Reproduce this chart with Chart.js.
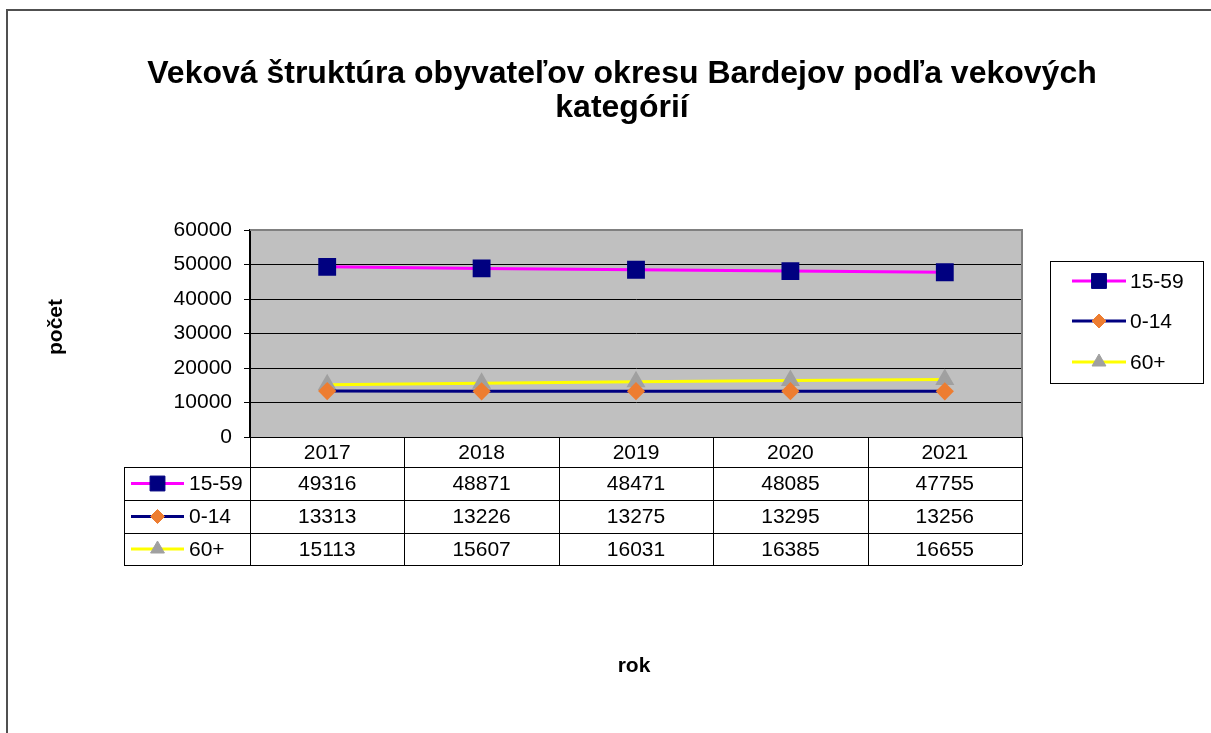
<!DOCTYPE html>
<html>
<head>
<meta charset="utf-8">
<script src="https://cdn.jsdelivr.net/npm/chart.js@4/dist/chart.umd.min.js"></script>
<style>
  html, body { margin: 0; padding: 0; background: #fff; }
  #wrap { position: relative; width: 1211px; height: 733px; }
</style>
</head>
<body>
<div id="wrap"><canvas id="c" width="1211" height="733"></canvas></div>
<script>
// data
var years = ['2017', '2018', '2019', '2020', '2021']
var age1559 = [49316, 48871, 48471, 48085, 47755]
var age014 = [13313, 13226, 13275, 13295, 13256]
var age60 = [15113, 15607, 16031, 16385, 16655]
var seriesNames = ['15-59', '0-14', '60+']
var yMin = 0, yMax = 60000, yStep = 10000

var titleLines = ['Veková štruktúra obyvateľov okresu Bardejov podľa vekových', 'kategórií']
var yTitle = 'počet'
var xTitle = 'rok'

var FONT = '"Liberation Sans", Arial, sans-serif'

function marker(ctx, ds, x, y) {
    ctx.save()
    ctx.fillStyle = ds.pointBackgroundColor
    ctx.strokeStyle = ds.pointBorderColor
    ctx.lineWidth = 1
    Chart.helpers.drawPoint(ctx, { pointStyle: ds.pointStyle, radius: ds.pointRadius, rotation: 0, borderWidth: 1 }, x, y)
    ctx.restore()
}

function legendKey(ctx, ds, x1, x2, y) {
    ctx.save()
    ctx.strokeStyle = ds.borderColor
    ctx.lineWidth = 3
    ctx.beginPath(); ctx.moveTo(x1, y); ctx.lineTo(x2, y); ctx.stroke()
    ctx.restore()
    marker(ctx, ds, (x1 + x2) / 2, y)
}

var frame = {
    id: 'frame',
    beforeDraw: function(chart) {
        var ctx = chart.ctx, a = chart.chartArea
        ctx.save()
        // outer chart border
        ctx.strokeStyle = '#505050'
        ctx.lineWidth = 2
        ctx.beginPath(); ctx.moveTo(7, 740); ctx.lineTo(7, 10); ctx.lineTo(1220, 10); ctx.stroke()
        // plot area
        ctx.fillStyle = '#C0C0C0'
        ctx.fillRect(a.left, a.top, a.right - a.left, a.bottom - a.top)
        ctx.restore()
    },
    afterDraw: function(chart) {
        var ctx = chart.ctx, a = chart.chartArea
        var xs = chart.scales.x
        var sets = chart.data.datasets
        ctx.save()
        ctx.strokeStyle = '#808080'
        ctx.lineWidth = 2
        ctx.beginPath(); ctx.moveTo(a.left, a.top); ctx.lineTo(a.right, a.top); ctx.lineTo(a.right, a.bottom); ctx.stroke()

        // title
        ctx.fillStyle = '#000'
        ctx.textAlign = 'center'
        ctx.textBaseline = 'alphabetic'
        ctx.font = 'bold 32px ' + FONT
        ctx.fillText(titleLines[0], 622, 83)
        ctx.fillText(titleLines[1], 622, 117)

        // axis titles
        ctx.font = 'bold 21px ' + FONT
        ctx.fillText(xTitle, 634, 672)
        ctx.save()
        ctx.translate(62, 327)
        ctx.rotate(-Math.PI / 2)
        ctx.fillText(yTitle, 0, 0)
        ctx.restore()

        // data table
        ctx.textBaseline = 'middle'
        var colW = (a.right - a.left) / years.length
        var rowY = [a.bottom, 467, 500, 533, 565]
        var tLeft = 124
        ctx.strokeStyle = '#000'
        ctx.lineWidth = 1
        ctx.beginPath()
        ctx.moveTo(a.left, a.bottom + 0.5); ctx.lineTo(a.right, a.bottom + 0.5)
        for (var r = 1; r < rowY.length; r++) {
            ctx.moveTo(tLeft, rowY[r] + 0.5); ctx.lineTo(a.right, rowY[r] + 0.5)
        }
        ctx.moveTo(tLeft + 0.5, rowY[1]); ctx.lineTo(tLeft + 0.5, rowY[4])
        for (var c = 0; c <= years.length; c++) {
            var cx = Math.round(a.left + c * colW) + 0.5
            ctx.moveTo(cx, a.bottom); ctx.lineTo(cx, rowY[4])
        }
        ctx.stroke()

        ctx.font = '21px ' + FONT
        ctx.fillStyle = '#000'
        years.forEach(function(y, i) {
            ctx.fillText(y, xs.getPixelForValue(i), (rowY[0] + rowY[1]) / 2 + 1)
        })
        sets.forEach(function(ds, s) {
            var cy = (rowY[s + 1] + rowY[s + 2]) / 2 + 1
            ds.data.forEach(function(v, i) {
                ctx.fillStyle = '#000'
                ctx.textAlign = 'center'
                ctx.fillText(String(v), xs.getPixelForValue(i), cy)
            })
            legendKey(ctx, ds, 131, 184, cy - 1)
            ctx.fillStyle = '#000'
            ctx.textAlign = 'left'
            ctx.fillText(ds.label, 189, cy)
        })

        // legend box
        ctx.strokeStyle = '#000'
        ctx.lineWidth = 1
        ctx.strokeRect(1050.5, 261.5, 153, 122)
        var ly = [281, 321, 362]
        sets.forEach(function(ds, s) {
            legendKey(ctx, ds, 1072, 1126, ly[s])
            ctx.fillStyle = '#000'
            ctx.textAlign = 'left'
            ctx.font = '21px ' + FONT
            ctx.fillText(ds.label, 1130, ly[s] + 1)
        })
        ctx.restore()
    }
}

new Chart(document.getElementById('c'), {
    type: 'line',
    data: {
        labels: years,
        datasets: [
            { label: seriesNames[0], data: age1559, borderColor: '#FF00FF', borderWidth: 3,
              pointStyle: 'rect', pointRadius: 10.5, pointBackgroundColor: '#000080', pointBorderColor: '#000080' },
            { label: seriesNames[1], data: age014, borderColor: '#000080', borderWidth: 3,
              pointStyle: 'rectRot', pointRadius: 7, pointBackgroundColor: '#ED7D31', pointBorderColor: '#ED7D31' },
            { label: seriesNames[2], data: age60, borderColor: '#FFFF00', borderWidth: 3,
              pointStyle: 'triangle', pointRadius: 8, pointBackgroundColor: '#A0A0A0', pointBorderColor: '#A0A0A0' }
        ]
    },
    options: {
        responsive: false,
        animation: false,
        layout: { padding: { left: 120, top: 230, right: 189, bottom: 296 } },
        plugins: { legend: { display: false }, title: { display: false }, tooltip: { enabled: false } },
        scales: {
            x: { display: false, offset: true },
            y: {
                min: yMin, max: yMax,
                afterFit: function(s) { s.width = 130 },
                ticks: { stepSize: yStep, color: '#000', padding: 12, font: { family: FONT, size: 21 },
                         callback: function(v) { return String(v) } },
                grid: { color: '#000', lineWidth: 1, tickLength: 6, drawTicks: true },
                border: { display: true, color: '#000', width: 2 }
            }
        }
    },
    plugins: [frame]
})
</script>
</body>
</html>
